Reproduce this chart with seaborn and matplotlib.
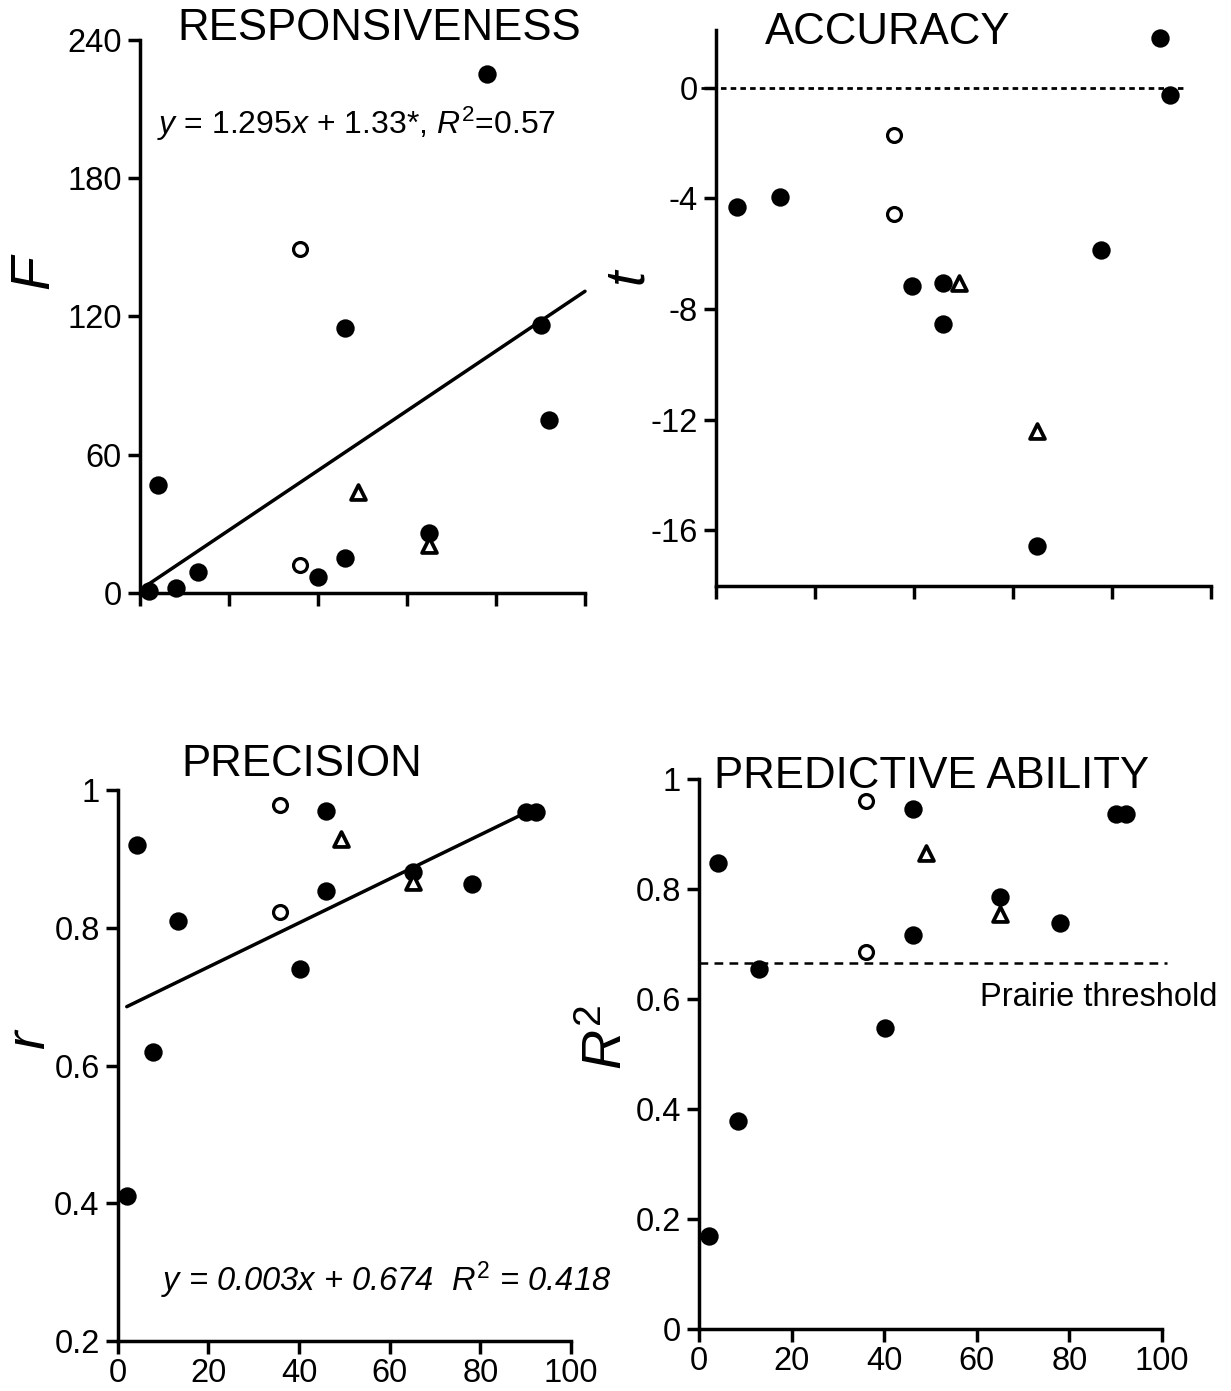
import numpy as np
import pandas as pd
import matplotlib
matplotlib.use("Agg")
import matplotlib.pyplot as plt
import seaborn as sns

# ---------------- data ----------------
# Responsiveness (F)
resp_filled_x = [2, 8, 13, 4, 40, 46, 46, 65, 78, 90, 92]
resp_filled_y = [1, 2, 9, 47, 7, 115, 15, 26, 225, 116, 75]
resp_open_x = [36, 36]
resp_open_y = [149, 12]
resp_tri_x = [49, 65]
resp_tri_y = [44, 21]
resp_fit = [1.295, 1.33]          # slope, intercept
resp_fit_xrange = [1, 100]

# Accuracy (t)
acc_filled_x = [4.3, 12.9, 39.7, 45.9, 45.9, 64.8, 77.8, 89.7, 91.7]
acc_filled_y = [-4.3, -3.95, -7.15, -7.05, -8.55, -16.55, -5.85, 1.8, -0.25]
acc_open_x = [35.9, 35.9]
acc_open_y = [-1.7, -4.55]
acc_tri_x = [49.1, 64.8]
acc_tri_y = [-7.05, -12.4]
acc_ref = 0
acc_ref_xrange = [-3, 95]

# Precision (r)
prec_filled_x = [2, 4.2, 7.8, 13.2, 40.2, 45.9, 45.9, 65.1, 78.2, 90, 92.2]
prec_filled_y = [0.41, 0.92, 0.62, 0.81, 0.74, 0.97, 0.853, 0.881, 0.863, 0.968, 0.968]
prec_open_x = [35.9, 35.9]
prec_open_y = [0.978, 0.823]
prec_tri_x = [49.3, 65.1]
prec_tri_y = [0.929, 0.867]
prec_fit = [0.0032, 0.679]
prec_fit_xrange = [2, 90]

# Predictive ability (R2)
pa_filled_x = [2.1, 4.2, 8.4, 13, 40.2, 46.3, 46.3, 65, 78, 90, 92.3]
pa_filled_y = [0.169, 0.847, 0.379, 0.655, 0.548, 0.946, 0.717, 0.786, 0.738, 0.936, 0.936]
pa_open_x = [36, 36]
pa_open_y = [0.96, 0.686]
pa_tri_x = [49.1, 65]
pa_tri_y = [0.865, 0.754]
pa_threshold = 0.666
pa_threshold_xrange = [0, 101]

titles = ["RESPONSIVENESS", "ACCURACY", "PRECISION", "PREDICTIVE ABILITY"]
x_ticks = [0, 20, 40, 60, 80, 100]
resp_yticks = [0, 60, 120, 180, 240]
acc_yticks = [0, -4, -8, -12, -16]
prec_yticks = [0.2, 0.4, 0.6, 0.8, 1.0]
prec_yticklabels = ["0.2", "0.4", "0.6", "0.8", "1"]
pa_yticks = [0, 0.2, 0.4, 0.6, 0.8, 1.0]
pa_yticklabels = ["0", "0.2", "0.4", "0.6", "0.8", "1"]

# ---------------- style ----------------
sns.set_theme(style="ticks")
plt.rcParams["font.family"] = ["Liberation Sans", "DejaVu Sans"]
plt.rcParams["mathtext.fontset"] = "custom"
plt.rcParams["mathtext.rm"] = "Liberation Sans"
plt.rcParams["mathtext.it"] = "Liberation Sans:italic"
for k in ["text.color", "axes.labelcolor", "xtick.color", "ytick.color", "axes.edgecolor"]:
    plt.rcParams[k] = "black"

W, H = 1231, 1391
fig = plt.figure(figsize=(W / 100, H / 100), dpi=100)

def box(l, r, t, b):
    return [l / W, 1 - b / H, (r - l) / W, (b - t) / H]

ax_tl = fig.add_axes(box(140, 585, 39.5, 593))
ax_tr = fig.add_axes(box(715.7, 1211, 29.7, 585.7))
ax_bl = fig.add_axes(box(117.7, 571, 790, 1341))
ax_br = fig.add_axes(box(699, 1162, 779, 1329))

LW = 2.5
TICK_FS = 23.5

def style_axes(ax):
    for s in ["top", "right"]:
        ax.spines[s].set_visible(False)
    for s in ["left", "bottom"]:
        ax.spines[s].set_linewidth(LW)
        ax.spines[s].set_color("black")
    ax.tick_params(axis="both", direction="out", length=9, width=LW,
                   colors="black", labelsize=TICK_FS)
    ax.tick_params(axis="x", pad=3)
    ax.tick_params(axis="y", pad=4)
    ax.set_xlabel("")
    ax.set_ylabel("")

def points(ax, fx, fy, ox, oy, tx, ty):
    sns.scatterplot(x=fx, y=fy, ax=ax, marker="o", s=175, color="black",
                    edgecolor="black", linewidth=0, clip_on=False, zorder=3)
    sns.scatterplot(x=ox, y=oy, ax=ax, marker="o", s=100, facecolor="white",
                    edgecolor="black", linewidth=2.3, clip_on=False, zorder=3)
    sns.scatterplot(x=tx, y=ty, ax=ax, marker="^", s=115, facecolor="white",
                    edgecolor="black", linewidth=2.7, clip_on=False, zorder=3)

# Top-left: responsiveness
points(ax_tl, resp_filled_x, resp_filled_y, resp_open_x, resp_open_y, resp_tri_x, resp_tri_y)
fx = np.array(resp_fit_xrange, dtype=float)
sns.lineplot(x=fx, y=resp_fit[0] * fx + resp_fit[1], ax=ax_tl, color="black",
             linewidth=LW, clip_on=False, zorder=2)
ax_tl.set_xlim(0, 100)
ax_tl.set_ylim(0, 240)
ax_tl.set_xticks(x_ticks)
ax_tl.set_xticklabels([])
ax_tl.set_yticks(resp_yticks)
ax_tl.set_yticklabels([str(v) for v in resp_yticks])
style_axes(ax_tl)

# Top-right: accuracy
points(ax_tr, acc_filled_x, acc_filled_y, acc_open_x, acc_open_y, acc_tri_x, acc_tri_y)
ax_tr.plot(acc_ref_xrange, [acc_ref, acc_ref], color="black", linewidth=2,
           linestyle=(0, (2, 1.5)), clip_on=False, zorder=1)
ax_tr.set_xlim(0, 100)
ax_tr.set_ylim(-18, 2.1)
ax_tr.set_xticks(x_ticks)
ax_tr.set_xticklabels([])
ax_tr.set_yticks(acc_yticks)
ax_tr.set_yticklabels([str(v) for v in acc_yticks])
style_axes(ax_tr)

# Bottom-left: precision
points(ax_bl, prec_filled_x, prec_filled_y, prec_open_x, prec_open_y, prec_tri_x, prec_tri_y)
px = np.array(prec_fit_xrange, dtype=float)
sns.lineplot(x=px, y=prec_fit[0] * px + prec_fit[1], ax=ax_bl, color="black",
             linewidth=LW, clip_on=False, zorder=2)
ax_bl.set_xlim(0, 100)
ax_bl.set_ylim(0.2, 1.0)
ax_bl.set_xticks(x_ticks)
ax_bl.set_xticklabels([str(v) for v in x_ticks])
ax_bl.set_yticks(prec_yticks)
ax_bl.set_yticklabels(prec_yticklabels)
style_axes(ax_bl)

# Bottom-right: predictive ability
points(ax_br, pa_filled_x, pa_filled_y, pa_open_x, pa_open_y, pa_tri_x, pa_tri_y)
ax_br.plot(pa_threshold_xrange, [pa_threshold, pa_threshold], color="black",
           linewidth=1.8, linestyle=(0, (3.5, 2.5)), clip_on=False, zorder=1)
ax_br.set_xlim(0, 100)
ax_br.set_ylim(0, 1.0)
ax_br.set_xticks(x_ticks)
ax_br.set_xticklabels([str(v) for v in x_ticks])
ax_br.set_yticks(pa_yticks)
ax_br.set_yticklabels(pa_yticklabels)
style_axes(ax_br)

def ftext(x, y, s, **kw):
    fig.text(x / W, 1 - y / H, s, **kw)

# titles
TFS = 31.5
ftext(379, 28, titles[0], fontsize=TFS, ha="center", va="center")
ftext(888, 33, titles[1], fontsize=TFS, ha="center", va="center")
ftext(302, 764, titles[2], fontsize=TFS, ha="center", va="center")
ftext(932, 776, titles[3], fontsize=TFS, ha="center", va="center")

# y labels
ftext(34, 272, "F", fontsize=40, style="italic", rotation=90, ha="center", va="center")
ftext(628, 276, "t", fontsize=40, style="italic", rotation=90, ha="center", va="center")
ftext(30, 1040, "r", fontsize=40, style="italic", rotation=90, ha="center", va="center")
ftext(608, 1037, r"$R^2$", fontsize=40, rotation=90, ha="center", va="center")

# annotations
ftext(157, 124, r"$y$ = 1.295$x$ + 1.33*, $R^2$=0.57", fontsize=23, ha="left", va="center")
ftext(161, 1280, r"$y$ = 0.003$x$ + 0.674  $R^2$ = 0.418", fontsize=23.5,
      style="italic", ha="left", va="center")
ftext(980, 998, "Prairie threshold", fontsize=23.5, ha="left", va="center")

fig.savefig("out.png", dpi=100)
